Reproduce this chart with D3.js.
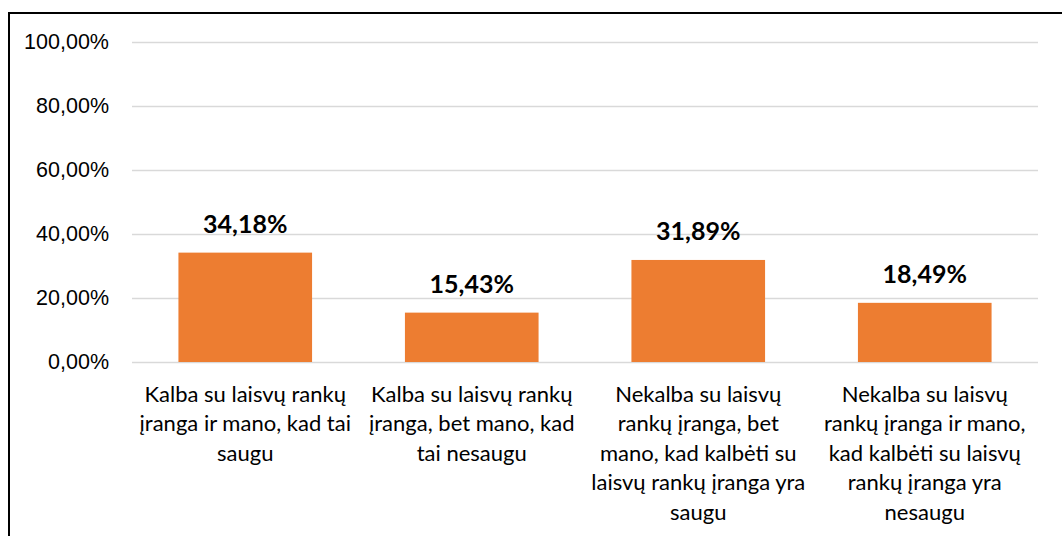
<!DOCTYPE html>
<html>
<head>
<meta charset="utf-8">
<script src="https://cdn.jsdelivr.net/npm/d3@7"></script>
<style>
  body { margin: 0; background: #fff; }
  svg { display: block; font-family: Lato, "Open Sans", sans-serif; }
</style>
</head>
<body>
<div id="chart"></div>
<script>
// chart values
const categories = [
  "Kalba su laisvų rankų\nįranga ir mano, kad tai\nsaugu",
  "Kalba su laisvų rankų\nįranga, bet mano, kad\ntai nesaugu",
  "Nekalba su laisvų\nrankų įranga, bet\nmano, kad kalbėti su\nlaisvų rankų įranga yra\nsaugu",
  "Nekalba su laisvų\nrankų įranga ir mano,\nkad kalbėti su laisvų\nrankų įranga yra\nnesaugu"
];
const values = [0.3418, 0.1543, 0.3189, 0.1849];
const yTicks = [0, 0.2, 0.4, 0.6, 0.8, 1.0];

const width = 1062, height = 536;
const margin = {left: 132, right: 24, top: 42, bottom: 174};

const fmt = v => (v * 100).toFixed(2).replace(".", ",") + "%";

const svg = d3.select("#chart").append("svg")
  .attr("width", width)
  .attr("height", height);

// frame (left and top edges visible in the crop)
svg.append("path")
  .attr("d", `M9,${height} V13 H${width}`)
  .attr("fill", "none")
  .attr("stroke", "#000")
  .attr("stroke-width", 2);

const x = d3.scaleBand()
  .domain(categories)
  .range([margin.left, width - margin.right])
  .paddingInner(0.41)
  .paddingOuter(0.205);

const y = d3.scaleLinear()
  .domain([0, 1])
  .range([height - margin.bottom, margin.top]);

// gridlines + y labels
const yAxis = d3.axisLeft(y)
  .tickValues(yTicks)
  .tickSize(-(width - margin.left - margin.right))
  .tickPadding(23)
  .tickFormat(fmt);

const gy = svg.append("g")
  .attr("transform", `translate(${margin.left},0)`)
  .call(yAxis);
gy.select(".domain").remove();
gy.selectAll(".tick line").attr("stroke", "#d9d9d9").attr("stroke-width", 1.5);
gy.selectAll(".tick text")
  .attr("fill", "#000")
  .style("font-size", "21.5px");

// bars
svg.append("g").selectAll("rect")
  .data(values)
  .join("rect")
  .attr("x", (d, i) => x(categories[i]))
  .attr("width", x.bandwidth())
  .attr("y", d => y(d))
  .attr("height", d => y(0) - y(d))
  .attr("fill", "#ed7d31");

// value labels
svg.append("g").selectAll("text")
  .data(values)
  .join("text")
  .attr("x", (d, i) => x(categories[i]) + x.bandwidth() / 2)
  .attr("y", d => y(d) - 20)
  .attr("text-anchor", "middle")
  .style("font-size", "25px")
  .style("font-weight", "bold")
  .text(fmt);

// category labels, one tspan per line
const cat = svg.append("g").selectAll("text")
  .data(categories)
  .join("text")
  .attr("text-anchor", "middle")
  .style("font-size", "22px")
  .attr("fill", "#000")
  .attr("transform", d => `translate(${x(d) + x.bandwidth() / 2},${y(0) + 40})`);

cat.selectAll("tspan")
  .data(d => d.split("\n"))
  .join("tspan")
  .attr("x", 0)
  .attr("y", (d, i) => i * 29.4)
  .text(d => d);
</script>
</body>
</html>
